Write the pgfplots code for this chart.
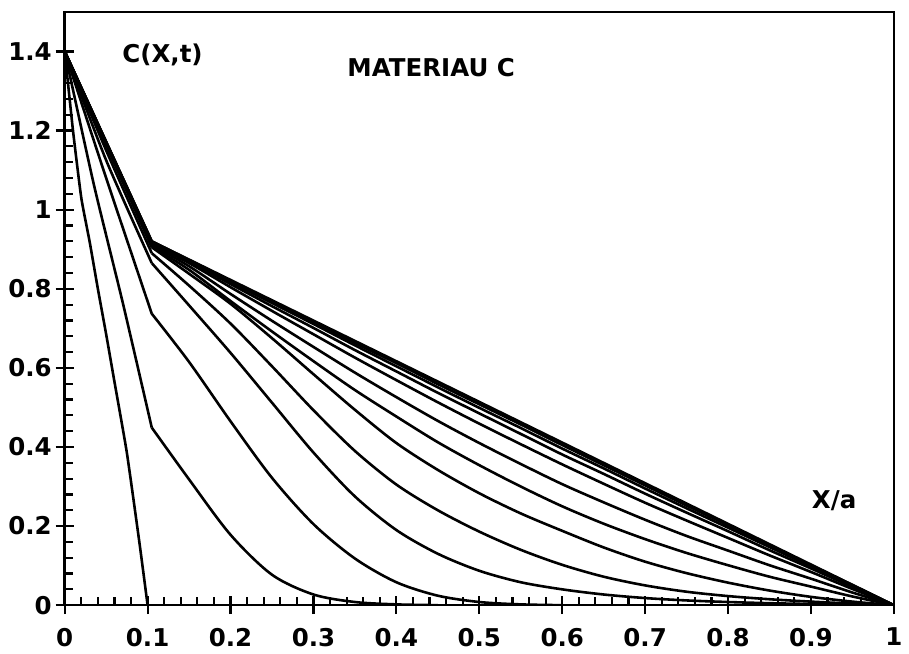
\documentclass[border=0pt]{standalone}
\usepackage{fontspec}
\setmainfont{DejaVu Sans}
\usepackage{pgfplots}
\pgfplotsset{compat=1.18}
\begin{document}
\begin{tikzpicture}
\begin{axis}[
  scale only axis,
  width=416.5pt, height=298pt,
  xmin=0, xmax=1, ymin=0, ymax=1.5,
  xtick={0,0.1,...,1.01},
  xticklabels={0,0.1,0.2,0.3,0.4,0.5,0.6,0.7,0.8,0.9,1},
  ytick={0,0.2,...,1.41},
  yticklabels={0,0.2,0.4,0.6,0.8,1,1.2,1.4},
  minor tick num=4,
  tick pos=left,
  tick align=inside,
  major tick length=9pt,
  minor tick length=4pt,
  every major x tick/.append style={yshift=-4.5pt},
  every major y tick/.append style={xshift=-4.5pt},
  every tick/.append style={line width=1.1pt, black},
  axis line style={line width=1.3pt},
  tick label style={font=\bfseries\fontsize{12.3}{14}\selectfont},
  xticklabel style={yshift=-8pt},
  yticklabel style={xshift=-3pt},
  cycle list={{black,solid,no markers}},
  every axis plot/.append style={line width=1.3pt, line join=round},
  clip=true,
]
% A
\addplot[smooth,tension=0.3] coordinates {(0,1.4)(0.01,1.2)(0.02,1.03)(0.03,0.92)(0.04,0.80)(0.05,0.685)(0.06,0.565)(0.075,0.385)(0.09,0.16)(0.1,0)};
\addplot coordinates {(0.1,0)(1,0)};
% B
\addplot[smooth,tension=0.4] coordinates {(0,1.4)(0.035,1.065)(0.07,0.765)(0.105,0.449)};
\addplot[smooth] coordinates {(0.105,0.449)(0.15,0.318)(0.2,0.178)(0.25,0.077)(0.3,0.027)(0.35,0.008)(0.4,0.002)(0.45,0)};
\addplot coordinates {(0.45,0)(1,0)};
% C
\addplot[smooth,tension=0.4] coordinates {(0,1.4)(0.05,1.08)(0.105,0.737)};
\addplot[smooth] coordinates {(0.105,0.737)(0.15,0.615)(0.2,0.465)(0.25,0.322)(0.3,0.205)(0.35,0.118)(0.4,0.058)(0.45,0.024)(0.5,0.008)(0.55,0.002)(0.6,0)};
\addplot coordinates {(0.6,0)(1,0)};
% D
\addplot[smooth,tension=0.4] coordinates {(0,1.4)(0.05,1.125)(0.105,0.865)};
\addplot[smooth] coordinates {(0.105,0.865)(0.15,0.758)(0.2,0.638)(0.25,0.512)(0.3,0.386)(0.35,0.275)(0.4,0.19)(0.45,0.13)(0.5,0.087)(0.55,0.058)(0.6,0.04)(0.65,0.027)(0.7,0.018)(0.75,0.012)(0.8,0.008)(0.85,0.005)(0.9,0.003)(0.95,0.0015)(1,0)};
% E
\addplot[smooth,tension=0.4] coordinates {(0,1.4)(0.05,1.15)(0.105,0.89)};
\addplot[smooth] coordinates {(0.105,0.89)(0.15,0.808)(0.2,0.712)(0.25,0.604)(0.3,0.493)(0.35,0.39)(0.4,0.305)(0.45,0.24)(0.5,0.186)(0.55,0.14)(0.6,0.102)(0.65,0.072)(0.7,0.05)(0.75,0.034)(0.8,0.023)(0.85,0.015)(0.9,0.009)(0.95,0.004)(1,0)};
% F
\addplot coordinates {(0,1.4)(0.105,0.905)};
\addplot[smooth] coordinates {(0.105,0.905)(0.15,0.838)(0.2,0.762)(0.25,0.675)(0.3,0.584)(0.35,0.494)(0.4,0.41)(0.45,0.342)(0.5,0.283)(0.55,0.232)(0.6,0.188)(0.65,0.146)(0.7,0.11)(0.75,0.081)(0.8,0.057)(0.85,0.037)(0.9,0.021)(0.95,0.009)(1,0)};
% G
\addplot coordinates {(0,1.4)(0.105,0.907)};
\addplot[smooth] coordinates {(0.105,0.907)(0.15,0.848)(0.2,0.769)(0.25,0.692)(0.3,0.617)(0.35,0.544)(0.4,0.477)(0.45,0.412)(0.5,0.354)(0.55,0.300)(0.6,0.250)(0.65,0.206)(0.7,0.167)(0.75,0.132)(0.8,0.101)(0.85,0.072)(0.9,0.047)(0.95,0.022)(1,0)};
% H
\addplot coordinates {(0,1.4)(0.105,0.911)};
\addplot[smooth] coordinates {(0.105,0.911)(0.15,0.857)(0.2,0.787)(0.25,0.719)(0.3,0.653)(0.35,0.588)(0.4,0.526)(0.45,0.466)(0.5,0.410)(0.55,0.357)(0.6,0.306)(0.65,0.260)(0.7,0.216)(0.75,0.175)(0.8,0.138)(0.85,0.101)(0.9,0.067)(0.95,0.032)(1,0)};
% I
\addplot coordinates {(0,1.4)(0.105,0.914)};
\addplot[smooth] coordinates {(0.105,0.914)(0.15,0.865)(0.2,0.804)(0.25,0.744)(0.3,0.685)(0.35,0.626)(0.4,0.569)(0.45,0.513)(0.5,0.459)(0.55,0.407)(0.6,0.356)(0.65,0.307)(0.7,0.259)(0.75,0.214)(0.8,0.170)(0.85,0.126)(0.9,0.084)(0.95,0.041)(1,0)};
% J
\addplot coordinates {(0,1.4)(0.105,0.917)};
\addplot[smooth] coordinates {(0.105,0.917)(0.15,0.869)(0.2,0.812)(0.25,0.756)(0.3,0.701)(0.35,0.645)(0.4,0.591)(0.45,0.537)(0.5,0.485)(0.55,0.433)(0.6,0.381)(0.65,0.332)(0.7,0.282)(0.75,0.234)(0.8,0.187)(0.85,0.139)(0.9,0.093)(0.95,0.046)(1,0)};
% K
\addplot coordinates {(0,1.4)(0.105,0.919)};
\addplot[smooth] coordinates {(0.105,0.919)(0.15,0.872)(0.2,0.817)(0.25,0.764)(0.3,0.711)(0.35,0.657)(0.4,0.604)(0.45,0.551)(0.5,0.499)(0.55,0.448)(0.6,0.396)(0.65,0.346)(0.7,0.295)(0.75,0.245)(0.8,0.196)(0.85,0.147)(0.9,0.098)(0.95,0.049)(1,0)};
% L
\addplot coordinates {(0,1.4)(0.105,0.92)};
\addplot[smooth] coordinates {(0.105,0.92)(0.15,0.873)(0.2,0.820)(0.25,0.768)(0.3,0.716)(0.35,0.663)(0.4,0.612)(0.45,0.559)(0.5,0.508)(0.55,0.457)(0.6,0.405)(0.65,0.354)(0.7,0.303)(0.75,0.252)(0.8,0.202)(0.85,0.151)(0.9,0.101)(0.95,0.051)(1,0)};
% M steady
\addplot coordinates {(0,1.4)(0.105,0.92)(1,0)};
\node[font=\bfseries\fontsize{12.3}{14}\selectfont] at (axis cs:0.118,1.39) {C(X,t)};
\node[font=\bfseries\fontsize{12.3}{14}\selectfont] at (axis cs:0.442,1.36) {MATERIAU C};
\node[font=\bfseries\fontsize{12.3}{14}\selectfont] at (axis cs:0.928,0.265) {X/a};
\end{axis}
\path ([shift={(-32.5pt,-22pt)}]current axis.south west) rectangle ([shift={(5.5pt,6pt)}]current axis.north east);
\end{tikzpicture}
\end{document}
